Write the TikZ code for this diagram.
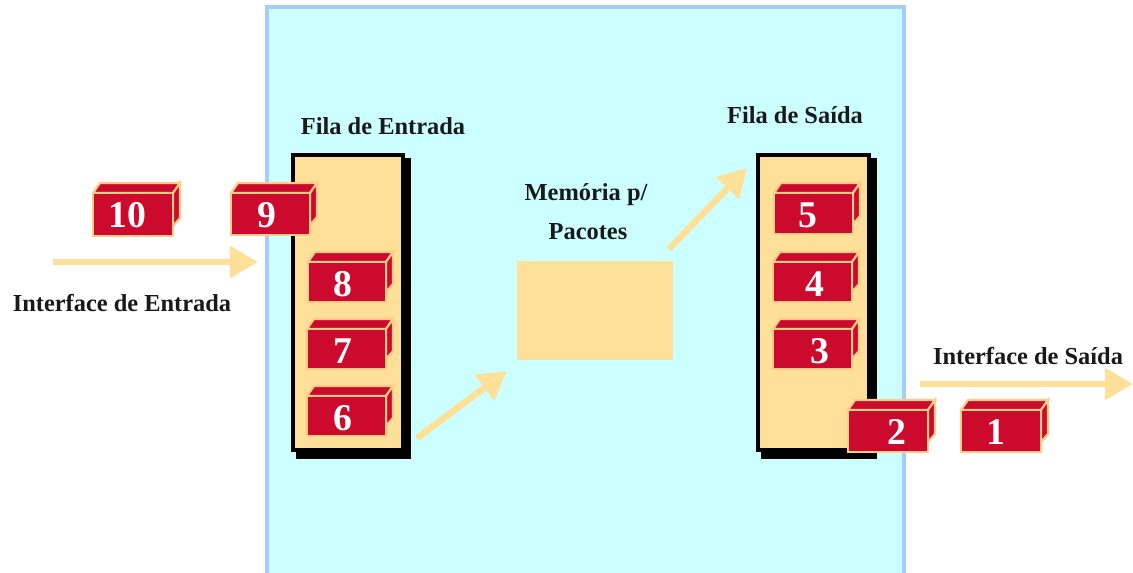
\documentclass[tikz,border=0pt]{standalone}
\usepackage{fontspec}
\setmainfont{Liberation Serif}
\usepackage{tikz}
\usetikzlibrary{arrows.meta,positioning,calc}
\definecolor{sand}{HTML}{FFE099}
\definecolor{aqua}{HTML}{CCFFFF}
\definecolor{edgeblue}{HTML}{A6CCF8}
\definecolor{crimson}{HTML}{CC0A2E}
\definecolor{peach}{HTML}{FFCC88}
\tikzset{
  x=0.02cm,y=-0.02cm,
  title/.style={font=\fontsize{13.9}{15}\selectfont\bfseries,text=black!90},
  num/.style={font=\fontsize{21.5}{24}\selectfont\bfseries,text=white},
  flow/.style={draw=sand,line width=3.8pt,-{Triangle[length=16pt,width=17.5pt]}},
  face/.style={fill=crimson,draw=peach,line width=1.2pt,line join=miter}
}
\begin{document}
\begin{tikzpicture}
    \useasboundingbox (0,0) rectangle (1133,573);
    \fill[white] (0,0) rectangle (1133,573);
    % router
    \draw[fill=aqua,draw=edgeblue,line width=2.2pt] (267,7) -- (904,7) -- (904,580) -- (267,580) -- cycle;
    % queues
    \fill[black] (296,158) rectangle (411,459);
    \fill[black] (761,158) rectangle (877,459);
    \draw[fill=sand,draw=black,line width=2.2pt] (293,155) rectangle (403,450);
    \draw[fill=sand,draw=black,line width=2.2pt] (758,155) rectangle (869,450);
    \fill[sand] (517,261) rectangle (673,360);
    % flow
    \coordinate (inA) at (53,262);
    \coordinate (inB) at (258,262);
    \coordinate (outA) at (920,384);
    \coordinate (outB) at (1133,384);
    \coordinate (memA) at (417,438);
    \coordinate (memB) at (507,371);
    \coordinate (memC) at (669,249);
    \coordinate (memD) at (747,168);
    \draw[flow] (inA) -- (inB);
    \draw[flow] (outA) -- (outB);
    \draw[flow] (memA) -- (memB);
    \draw[flow] (memC) -- (memD);
    % packets
    \foreach \x/\y/\w/\h/\n/\tx in {
        93/193/80/43/10/127,
        231/193/79/42/9/267,
        308/262/78/40/8/343,
        307/329/79/40/7/343,
        307/396/79/40/6/343,
        774/193/79/41/5/808,
        773/262/79/40/4/815,
        773/329/79/40/3/820,
        848/410/80/42/2/897,
        961/410/80/42/1/996}
    {
        \draw[face] (\x,\y) -- ++(7,-10) -- ++(\w,0) -- ++(-7,10) -- cycle;
        \draw[face] (\x+\w,\y) -- ++(7,-10) -- ++(0,\h-8) -- ++(-7,8) -- cycle;
        \draw[face] (\x,\y) rectangle ++(\w,\h);
        \node[num] (n\n) at (\tx,\y+22) {\n};
    }
    % labels
    \node[title] (fe) at (383,126) {Fila de Entrada};
    \node[title] (fs) at (795,115) {Fila de Saída};
    \node[title] (ie) at (122,303) {Interface de Entrada};
    \node[title] (is) at (1028,356) {Interface de Saída};
    \node[title] (mem) at (586,195) {Memória p/};
    \node[title] (pac) at (588,232) {Pacotes};
\end{tikzpicture}
\end{document}
